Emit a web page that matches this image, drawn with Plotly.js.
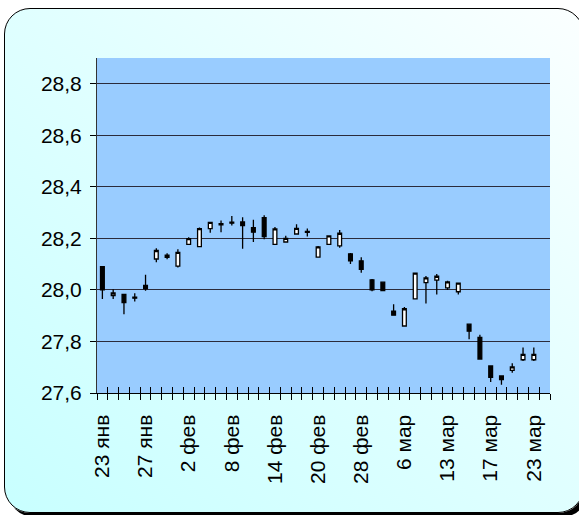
<!DOCTYPE html>
<html>
<head>
<meta charset="utf-8">
<script src="https://cdn.plot.ly/plotly-3.0.1.min.js"></script>
<style>
  html, body { margin: 0; padding: 0; background: #ffffff; width: 579px; height: 515px; overflow: hidden; }
  #frame {
    position: absolute; left: 4px; top: 8px; width: 578px; height: 503px;
    border: 1.5px solid #000; border-radius: 26px;
    background: linear-gradient(to top right, #c8ffff 0%, #e2ffff 55%, #fbffff 100%);
    box-shadow: 4px 4px 0 #000;
  }
  #chart { position: absolute; left: 0; top: 0; width: 579px; height: 515px; }
</style>
</head>
<body>
<div id="frame"></div>
<div id="chart"></div>
<script>
const dates = [
  '23 янв','24 янв','25 янв','26 янв','27 янв','28 янв','29 янв','31 янв',
  '2 фев','3 фев','4 фев','6 фев','8 фев','9 фев','11 фев','13 фев',
  '14 фев','15 фев','17 фев','18 фев','20 фев','21 фев','22 фев','25 фев',
  '28 фев','1 мар','3 мар','4 мар','6 мар','7 мар','11 мар','12 мар',
  '13 мар','14 мар','15 мар','16 мар','17 мар','18 мар','19 мар','20 мар',
  '23 мар','24 мар'
];
const labelledDates = ['23 янв','27 янв','2 фев','8 фев','14 фев','20 фев','28 фев','6 мар','13 мар','17 мар','23 мар'];

const openV  = [28.090,27.978,27.983,27.972,28.018,28.120,28.135,28.092,28.177,28.168,28.238,28.257,28.263,28.264,28.242,28.280,28.177,28.186,28.217,28.227,28.127,28.177,28.171,28.140,28.113,28.039,28.030,27.918,27.860,27.965,28.028,28.038,28.008,27.993,27.867,27.816,27.705,27.666,27.688,27.729,27.729,null];
const highV  = [28.092,28.003,27.985,27.987,28.059,28.162,28.142,28.158,28.204,28.242,28.264,28.269,28.287,28.282,28.272,28.290,28.244,28.210,28.255,28.238,28.170,28.212,28.233,28.143,28.127,28.042,28.032,27.944,27.934,28.067,28.054,28.062,28.036,28.028,27.869,27.826,27.707,27.668,27.715,27.777,27.777,null];
const lowV   = [27.965,27.965,27.906,27.955,27.997,28.107,28.119,28.087,28.175,28.166,28.222,28.224,28.250,28.160,28.186,28.197,28.175,28.185,28.216,28.207,28.125,28.176,28.164,28.101,28.067,27.995,27.995,27.900,27.858,27.963,27.947,27.982,28.000,27.982,27.809,27.730,27.643,27.632,27.679,27.724,27.724,null];
const closeV = [28.000,27.988,27.951,27.968,28.005,28.153,28.126,28.146,28.199,28.238,28.262,28.253,28.259,28.250,28.224,28.207,28.237,28.200,28.239,28.223,28.167,28.210,28.220,28.113,28.080,28.000,27.997,27.902,27.927,28.065,28.047,28.053,28.031,28.026,27.840,27.732,27.661,27.652,27.701,27.750,27.750,null];

const yTicks = [27.6,27.8,28.0,28.2,28.4,28.6,28.8];

const tickText = dates.map(d => labelledDates.includes(d) ? d : '');
const font = {family: 'Liberation Sans, Arial, sans-serif', size: 21, color: '#000'};

const traces = [
  {
    type: 'candlestick',
    x: dates, open: openV, high: highV, low: lowV, close: closeV,
    increasing: {line: {color: '#000', width: 1.3}, fillcolor: '#ffffff'},
    decreasing: {line: {color: '#000', width: 1.3}, fillcolor: '#000000'},
    whiskerwidth: 0,
    hoverinfo: 'skip',
    showlegend: false
  },
  {
    type: 'scatter', x: dates, y: dates.map(() => null), xaxis: 'x2', yaxis: 'y',
    mode: 'none', hoverinfo: 'skip', showlegend: false
  }
];

const layout = {
  width: 579, height: 515,
  margin: {l: 97, r: 29, t: 58, b: 122},
  paper_bgcolor: 'rgba(0,0,0,0)',
  plot_bgcolor: '#99ccff',
  separators: ', ',
  font: font,
  showlegend: false,
  boxgap: 0.5,
  xaxis: {
    type: 'category',
    categoryorder: 'array', categoryarray: dates,
    range: [-0.5, dates.length - 0.5],
    rangeslider: {visible: false},
    tickmode: 'array', tickvals: dates, ticktext: tickText,
    tickson: 'boundaries',
    ticks: 'outside', ticklen: 6, tickwidth: 1, tickcolor: '#000',
    tickangle: -90,
    showgrid: false, zeroline: false,
    showline: true, linecolor: '#000', linewidth: 1.3,
    tickfont: font,
    ticklabelstandoff: 12,
    fixedrange: true
  },
  xaxis2: {
    type: 'category', overlaying: 'x', anchor: 'y',
    categoryorder: 'array', categoryarray: dates,
    range: [-0.5, dates.length - 0.5],
    tickmode: 'array', tickvals: dates, ticktext: dates.map(() => ''),
    tickson: 'boundaries',
    ticks: 'inside', ticklen: 6, tickwidth: 1, tickcolor: '#000',
    showticklabels: false, showgrid: false, zeroline: false, showline: false,
    fixedrange: true
  },
  yaxis: {
    range: [27.6, 28.9],
    tickmode: 'array', tickvals: yTicks,
    tickformat: '.1f',
    ticks: 'outside', ticklen: 6, tickwidth: 1, tickcolor: '#000',
    showgrid: true, gridcolor: '#2b2b3b', gridwidth: 1,
    zeroline: false,
    showline: true, linecolor: '#333', linewidth: 1,
    tickfont: font,
    ticklabelstandoff: 4,
    fixedrange: true
  }
};

Plotly.newPlot('chart', traces, layout, {displayModeBar: false, staticPlot: true});
</script>
</body>
</html>
